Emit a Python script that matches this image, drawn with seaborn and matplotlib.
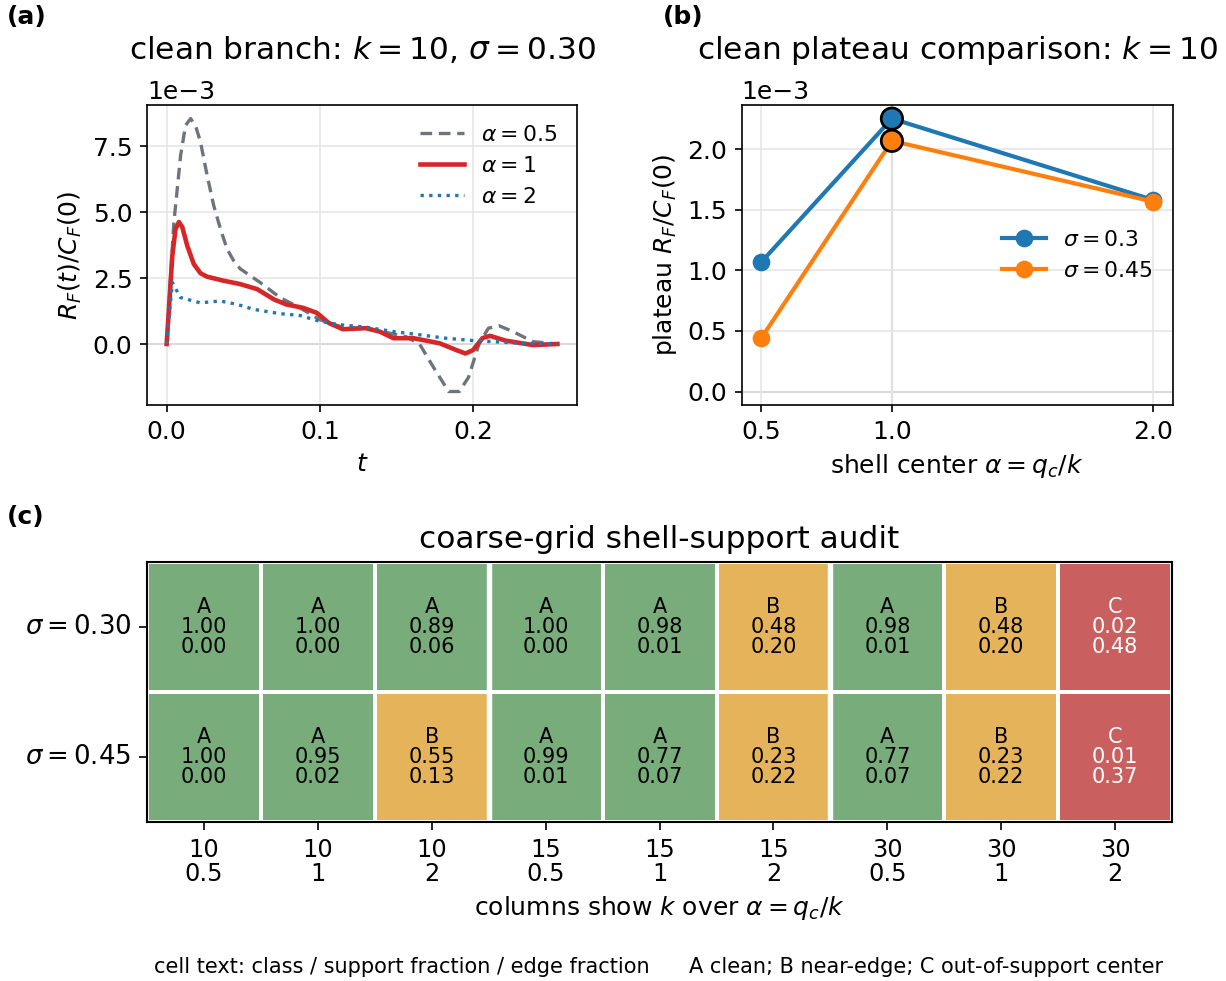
import numpy as np
import pandas as pd
import matplotlib
matplotlib.use("Agg")
import matplotlib.pyplot as plt
from matplotlib.colors import ListedColormap
from matplotlib.ticker import MultipleLocator
import seaborn as sns

# ---- (a) response curves, k = 10, sigma = 0.30 (units of 1e-3) ----
t_half = [0.0, 0.0047, 0.0091, 0.0123, 0.0156, 0.0188, 0.0221, 0.0264, 0.0307,
          0.0351, 0.0394, 0.0437, 0.048, 0.061, 0.074, 0.087,
          0.100, 0.113, 0.135, 0.156, 0.165, 0.174, 0.184, 0.191, 0.197, 0.204,
          0.210, 0.217, 0.226, 0.239, 0.255]
r_half = [0.0, 4.60, 7.14, 8.28, 8.54, 8.28, 7.65, 6.39, 5.25,
          4.36, 3.60, 3.16, 2.85, 2.33, 1.76, 1.37,
          0.92, 0.67, 0.54, 0.28, 0.0, -0.87, -1.80, -1.80, -1.26, 0.03,
          0.60, 0.69, 0.47, 0.09, 0.0]

t_one = [0.0, 0.0037, 0.0058, 0.008, 0.0102, 0.0134, 0.0177, 0.0221, 0.0264,
         0.037, 0.048, 0.059, 0.070,
         0.078, 0.089, 0.098, 0.106, 0.115, 0.130, 0.139, 0.148, 0.161, 0.178,
         0.189, 0.195, 0.200, 0.206, 0.211, 0.221, 0.239, 0.255]
r_one = [0.0, 3.35, 4.36, 4.62, 4.43, 3.73, 3.03, 2.68, 2.55,
         2.40, 2.27, 2.08, 1.69,
         1.50, 1.37, 1.18, 0.79, 0.56, 0.60, 0.47, 0.22, 0.22, 0.03,
         -0.23, -0.36, -0.23, 0.22, 0.31, 0.13, -0.04, 0.0]

t_two = [0.0, 0.0037, 0.009, 0.022, 0.035, 0.046, 0.057, 0.074, 0.087, 0.100,
         0.113, 0.130, 0.148, 0.165, 0.182, 0.200, 0.213, 0.230, 0.255]
r_two = [0.0, 2.33, 1.76, 1.56, 1.63, 1.50, 1.31, 1.15, 1.08, 0.86,
         0.73, 0.64, 0.47, 0.35, 0.22, 0.13, 0.09, 0.03, 0.0]

# ---- (b) plateau heights, k = 10 (units of 1e-3) ----
shell_alpha = [0.5, 1.0, 2.0]
plateau_s030 = [1.07, 2.255, 1.583]
plateau_s045 = [0.441, 2.071, 1.569]

# ---- (c) coarse-grid audit ----
col_k = [10, 10, 10, 15, 15, 15, 30, 30, 30]
col_alpha = ["0.5", "1", "2", "0.5", "1", "2", "0.5", "1", "2"]
row_labels = [r"$\sigma = 0.30$", r"$\sigma = 0.45$"]
class_s030 = ["A", "A", "A", "A", "A", "B", "A", "B", "C"]
class_s045 = ["A", "A", "B", "A", "A", "B", "A", "B", "C"]
support_s030 = [1.00, 1.00, 0.89, 1.00, 0.98, 0.48, 0.98, 0.48, 0.02]
support_s045 = [1.00, 0.95, 0.55, 0.99, 0.77, 0.23, 0.77, 0.23, 0.01]
edge_s030 = [0.00, 0.00, 0.06, 0.00, 0.01, 0.20, 0.01, 0.20, 0.48]
edge_s045 = [0.00, 0.02, 0.13, 0.01, 0.07, 0.22, 0.07, 0.22, 0.37]

plt.rcParams["font.family"] = ["DejaVu Sans"]
plt.rcParams["mathtext.fontset"] = "dejavusans"

fig = plt.figure(figsize=(1226 / 150, 981 / 150), dpi=150)
ax_a = fig.add_axes([0.120, 0.587, 0.3506, 0.306])
ax_b = fig.add_axes([0.605, 0.587, 0.3515, 0.306])
ax_c = fig.add_axes([0.120, 0.162, 0.836, 0.265])

GRID = dict(color="0.9", lw=0.8)

# (a)
scale = 1e-3
sns.lineplot(x=t_half, y=np.array(r_half) * scale, ax=ax_a, color="#6c757d",
             lw=1.6, linestyle=(0, (3.5, 2.0)), label=r"$\alpha = 0.5$")
sns.lineplot(x=t_one, y=np.array(r_one) * scale, ax=ax_a, color="#d62728",
             lw=2.2, label=r"$\alpha = 1$")
sns.lineplot(x=t_two, y=np.array(r_two) * scale, ax=ax_a, color="#1f77b4",
             lw=1.6, linestyle=(0, (1, 1.6)), label=r"$\alpha = 2$")
ax_a.axhline(0, color="0.6", lw=0.9, zorder=0)
ax_a.grid(True, **GRID)
ax_a.set_axisbelow(True)
ax_a.set_xticks([0.0, 0.1, 0.2])
ax_a.yaxis.set_major_locator(MultipleLocator(2.5e-3))
ax_a.ticklabel_format(axis="y", style="sci", scilimits=(0, 0))
ax_a.tick_params(labelsize=12)
ax_a.yaxis.get_offset_text().set_fontsize(12)
ax_a.set_xlabel(r"$t$", fontsize=12)
ax_a.set_ylabel(r"$R_F(t)/C_F(0)$", fontsize=12)
ax_a.set_title(r"clean branch: $k = 10$, $\sigma = 0.30$", fontsize=15, pad=22)
ax_a.legend(loc="upper right", frameon=False, fontsize=10.5, handlelength=2.0)

# (b)
plateau = pd.DataFrame({
    "alpha": shell_alpha * 2,
    "plateau": np.array(plateau_s030 + plateau_s045) * scale,
    "sigma": [r"$\sigma = 0.3$"] * 3 + [r"$\sigma = 0.45$"] * 3,
})
ax_b.axvline(1.0, color="0.75", lw=1.0, zorder=0)
ax_b.axhline(0, color="0.6", lw=0.9, zorder=0)
sns.lineplot(data=plateau, x="alpha", y="plateau", hue="sigma",
             palette=["#1f77b4", "#ff7f0e"], marker="o", markersize=8.5,
             markeredgewidth=0, lw=2.0, ax=ax_b)
hl = plateau[plateau["alpha"] == 1.0]
sns.scatterplot(data=hl, x="alpha", y="plateau", hue="sigma",
                palette=["#1f77b4", "#ff7f0e"], s=105, edgecolor="black",
                linewidth=1.3, ax=ax_b, legend=False, zorder=5)
ax_b.grid(True, **GRID)
ax_b.set_axisbelow(True)
ax_b.set_xticks([0.5, 1.0, 2.0])
ax_b.ticklabel_format(axis="y", style="sci", scilimits=(0, 0))
ax_b.tick_params(labelsize=12)
ax_b.yaxis.get_offset_text().set_fontsize(12)
ax_b.set_xlabel(r"shell center $\alpha = q_c/k$", fontsize=12)
ax_b.set_ylabel(r"plateau $R_F/C_F(0)$", fontsize=12)
ax_b.set_title(r"clean plateau comparison: $k = 10$", fontsize=15, pad=22)
ax_b.legend(loc="center right", frameon=False, fontsize=10.5, title=None,
            handlelength=2.0)

# (c)
class_code = {"A": 0, "B": 1, "C": 2}
codes = np.array([[class_code[c] for c in class_s030],
                  [class_code[c] for c in class_s045]])
cell_text = np.array([
    [f"{c}\n{s:.2f}\n{e:.2f}" for c, s, e in zip(class_s030, support_s030, edge_s030)],
    [f"{c}\n{s:.2f}\n{e:.2f}" for c, s, e in zip(class_s045, support_s045, edge_s045)],
])
classes = [class_s030, class_s045]
col_labels = [f"{k}\n{a}" for k, a in zip(col_k, col_alpha)]
cmap = ListedColormap(["#78ac7b", "#e5b35a", "#c95f5f"])
sns.heatmap(codes, ax=ax_c, cmap=cmap, vmin=-0.5, vmax=2.5, cbar=False,
            annot=cell_text, fmt="", annot_kws={"fontsize": 10, "linespacing": 1.0},
            linewidths=1.0, linecolor="white",
            xticklabels=col_labels, yticklabels=row_labels)
for txt in ax_c.texts:
    x, y = txt.get_position()
    cls = classes[int(y)][int(x)]
    txt.set_color("white" if cls == "C" else "black")
for xg in (3, 6):
    ax_c.axvline(xg, color="white", lw=2.6)
for side in ax_c.spines.values():
    side.set_visible(True)
    side.set_color("black")
    side.set_linewidth(1.0)
ax_c.tick_params(axis="x", labelsize=11.5, rotation=0, length=4)
ax_c.tick_params(axis="y", labelsize=12.5, rotation=0, length=4)
for lbl in ax_c.get_xticklabels():
    lbl.set_linespacing(1.0)
ax_c.set_xlabel(r"columns show $k$ over $\alpha = q_c/k$", fontsize=12)
ax_c.set_title("coarse-grid shell-support audit", fontsize=15, pad=7)

# panel tags and footer
fig.text(0.006, 0.983, "(a)", fontsize=12, fontweight="bold", va="center")
fig.text(0.541, 0.983, "(b)", fontsize=12, fontweight="bold", va="center")
fig.text(0.006, 0.473, "(c)", fontsize=12, fontweight="bold", va="center")
fig.text(0.328, 0.004, "cell text: class / support fraction / edge fraction",
         fontsize=10, ha="center", va="bottom")
fig.text(0.755, 0.004, "A clean; B near-edge; C out-of-support center",
         fontsize=10, ha="center", va="bottom")

fig.savefig("out.png", dpi=150)
